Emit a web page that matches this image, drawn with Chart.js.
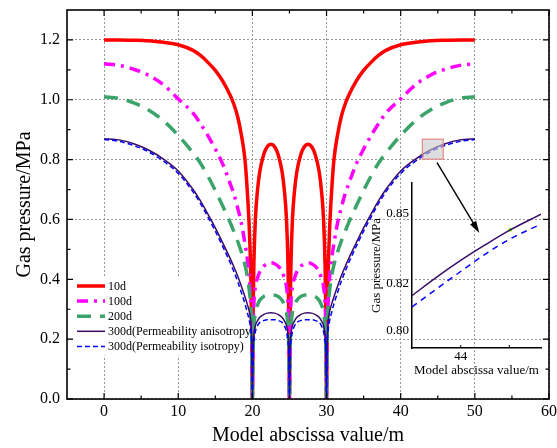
<!DOCTYPE html>
<html>
<head>
<meta charset="utf-8">
<script src="https://cdn.jsdelivr.net/npm/chart.js@4.4.0/dist/chart.umd.min.js"></script>
<style>
  html, body { margin: 0; padding: 0; background: #fff; }
  #wrap { position: relative; width: 557px; height: 448px; }
  #main { position: absolute; left: 0; top: 0; }
  #inset { position: absolute; left: 355px; top: 178px; }
</style>
</head>
<body>
<div id="wrap">
  <canvas id="main" width="557" height="448"></canvas>
  <canvas id="inset" width="195" height="200"></canvas>
</div>
<script>
const FONT = "'Liberation Serif', 'Times New Roman', serif";

// abscissa of every sample (m); wells sit at 20, 25 and 30
const xs = [
  0, 2, 4, 6, 8, 10, 12, 13, 14, 15, 16, 17, 17.5, 18, 18.5, 19, 19.3, 19.6, 19.8, 19.9, 20,
  20.1, 20.2, 20.4, 20.7, 21, 21.5, 22, 22.5, 23, 23.5, 24, 24.3, 24.6, 24.8, 24.9, 25,
  25.1, 25.2, 25.4, 25.7, 26, 26.5, 27, 27.5, 28, 28.5, 29, 29.3, 29.6, 29.8, 29.9, 30,
  30.1, 30.2, 30.4, 30.7, 31, 31.5, 32, 32.5, 33, 34, 35, 36, 37, 38, 40, 42, 44, 46, 48, 50
];

const p10d = [
  1.200, 1.200, 1.199, 1.197, 1.192, 1.184, 1.165, 1.148, 1.125, 1.098, 1.062, 1.015, 0.985, 0.945, 0.885, 0.800, 0.700, 0.560, 0.400, 0.260, 0.000,
  0.300, 0.450, 0.600, 0.700, 0.760, 0.815, 0.843, 0.851, 0.843, 0.815, 0.760, 0.700, 0.600, 0.450, 0.300, 0.000,
  0.300, 0.450, 0.600, 0.700, 0.760, 0.815, 0.843, 0.851, 0.843, 0.815, 0.760, 0.700, 0.600, 0.450, 0.300, 0.000,
  0.260, 0.400, 0.560, 0.700, 0.800, 0.885, 0.945, 0.985, 1.015, 1.062, 1.098, 1.125, 1.148, 1.165, 1.184, 1.192, 1.197, 1.199, 1.200, 1.200
];

const p100d = [
  1.120, 1.115, 1.102, 1.082, 1.050, 1.003, 0.955, 0.920, 0.880, 0.835, 0.785, 0.720, 0.685, 0.640, 0.590, 0.520, 0.470, 0.400, 0.320, 0.250, 0.000,
  0.240, 0.320, 0.375, 0.405, 0.425, 0.443, 0.452, 0.455, 0.452, 0.443, 0.425, 0.405, 0.375, 0.320, 0.240, 0.000,
  0.240, 0.320, 0.375, 0.405, 0.425, 0.443, 0.452, 0.455, 0.452, 0.443, 0.425, 0.405, 0.375, 0.320, 0.240, 0.000,
  0.250, 0.320, 0.400, 0.470, 0.520, 0.590, 0.640, 0.685, 0.720, 0.785, 0.835, 0.880, 0.920, 0.955, 1.003, 1.050, 1.082, 1.102, 1.115, 1.120
];

const p200d = [
  1.010, 1.005, 0.990, 0.966, 0.930, 0.881, 0.822, 0.788, 0.745, 0.697, 0.645, 0.590, 0.560, 0.528, 0.492, 0.448, 0.412, 0.360, 0.300, 0.230, 0.000,
  0.180, 0.240, 0.290, 0.315, 0.330, 0.342, 0.347, 0.348, 0.347, 0.342, 0.330, 0.315, 0.290, 0.240, 0.180, 0.000,
  0.180, 0.240, 0.290, 0.315, 0.330, 0.342, 0.347, 0.348, 0.347, 0.342, 0.330, 0.315, 0.290, 0.240, 0.180, 0.000,
  0.230, 0.300, 0.360, 0.412, 0.448, 0.492, 0.528, 0.560, 0.590, 0.645, 0.697, 0.745, 0.788, 0.822, 0.881, 0.930, 0.966, 0.990, 1.005, 1.010
];

const p300dAniso = [
  0.870, 0.866, 0.853, 0.832, 0.802, 0.762, 0.700, 0.662, 0.618, 0.572, 0.522, 0.470, 0.442, 0.412, 0.378, 0.342, 0.318, 0.290, 0.255, 0.200, 0.000,
  0.180, 0.215, 0.245, 0.262, 0.273, 0.282, 0.287, 0.288, 0.287, 0.282, 0.273, 0.262, 0.245, 0.215, 0.180, 0.000,
  0.180, 0.215, 0.245, 0.262, 0.273, 0.282, 0.287, 0.288, 0.287, 0.282, 0.273, 0.262, 0.245, 0.215, 0.180, 0.000,
  0.200, 0.255, 0.290, 0.318, 0.342, 0.378, 0.412, 0.442, 0.470, 0.522, 0.572, 0.618, 0.662, 0.700, 0.762, 0.802, 0.832, 0.853, 0.866, 0.870
];

const p300dIso = [
  0.867, 0.861, 0.847, 0.826, 0.795, 0.754, 0.692, 0.653, 0.608, 0.561, 0.510, 0.456, 0.426, 0.394, 0.357, 0.318, 0.290, 0.260, 0.225, 0.180, 0.000,
  0.150, 0.190, 0.225, 0.245, 0.256, 0.262, 0.265, 0.265, 0.265, 0.262, 0.256, 0.245, 0.225, 0.190, 0.150, 0.000,
  0.150, 0.190, 0.225, 0.245, 0.256, 0.262, 0.265, 0.265, 0.265, 0.262, 0.256, 0.245, 0.225, 0.190, 0.150, 0.000,
  0.180, 0.225, 0.260, 0.290, 0.318, 0.357, 0.394, 0.426, 0.456, 0.510, 0.561, 0.608, 0.653, 0.692, 0.754, 0.795, 0.826, 0.847, 0.861, 0.867
];

const seriesNames = ['10d', '100d', '200d', '300d(Permeability anisotropy)', '300d(Permeability isotropy)'];

const xTicks = [0, 10, 20, 30, 40, 50, 60];
const xMinorTicks = [5, 15, 25, 35, 45, 55];
const yTicks = [0, 0.2, 0.4, 0.6, 0.8, 1.0, 1.2];
const yMinorTicks = [0.1, 0.3, 0.5, 0.7, 0.9, 1.1];

// magnified window near x = 44 m
const insetXs = [43, 43.5, 44, 44.5, 45, 45.65];
const insetAniso = [0.8150, 0.8228, 0.8300, 0.8366, 0.8428, 0.8497];
const insetIso = [0.8102, 0.8178, 0.8253, 0.8326, 0.8390, 0.8455];
const insetMarker = [45.02, 0.8431];
const insetXTicks = [44, 45];
const insetYTicks = [0.80, 0.82, 0.85];

const zoomBox = { x0: 42.85, x1: 45.8, y0: 0.80, y1: 0.87 };
const arrow = { from: [44.9, 0.79], to: [50.6, 0.555] };

function series(i, values, color, width, dash, order) {
  return {
    label: seriesNames[i],
    data: xs.map((x, k) => ({ x, y: values[k] })),
    borderColor: color,
    borderWidth: width,
    borderDash: dash,
    borderCapStyle: 'butt',
    pointRadius: 0,
    cubicInterpolationMode: 'monotone',
    fill: false,
    order
  };
}

// drop the label half-height padding so the plot box sits where it is sized
function noEdgePad(s) {
  s.paddingTop = 0; s.paddingBottom = 0; s.paddingLeft = 0; s.paddingRight = 0;
}

const mainDecor = {
  id: 'mainDecor',
  beforeDatasetsDraw(chart) {
    // legend panel sits above the grid but under the curves
    const { ctx, chartArea: a } = chart;
    const lx = a.left + 8, rowY = a.top + 276, rowH = 15.1;
    ctx.save();
    ctx.fillStyle = '#fff';
    ctx.fillRect(lx, rowY - 8, 178, rowH * 5 + 2);
    ctx.font = '12px ' + FONT;
    ctx.textBaseline = 'middle';
    chart.data.datasets.forEach((ds, i) => {
      const yy = rowY + i * rowH;
      ctx.strokeStyle = ds.borderColor;
      ctx.lineWidth = ds.borderWidth;
      ctx.setLineDash(ds.borderDash || []);
      ctx.beginPath();
      ctx.moveTo(lx + 2, yy);
      ctx.lineTo(lx + 30, yy);
      ctx.stroke();
      ctx.setLineDash([]);
      ctx.fillStyle = '#000';
      ctx.fillText(ds.label, lx + 33, yy + 0.5);
    });
    ctx.restore();
  },
  afterDatasetsDraw(chart) {
    const { ctx, chartArea: a, scales: { x, y } } = chart;
    ctx.save();

    // highlighted window
    const bx0 = x.getPixelForValue(zoomBox.x0), bx1 = x.getPixelForValue(zoomBox.x1);
    const by0 = y.getPixelForValue(zoomBox.y1), by1 = y.getPixelForValue(zoomBox.y0);
    ctx.fillStyle = 'rgba(200,200,200,0.6)';
    ctx.fillRect(bx0, by0, bx1 - bx0, by1 - by0);
    ctx.strokeStyle = 'rgba(235,110,110,0.9)';
    ctx.lineWidth = 1;
    ctx.strokeRect(bx0 + 0.5, by0 + 0.5, bx1 - bx0 - 1, by1 - by0 - 1);

    // arrow to the inset
    const fx = x.getPixelForValue(arrow.from[0]), fy = y.getPixelForValue(arrow.from[1]);
    const tx = x.getPixelForValue(arrow.to[0]), ty = y.getPixelForValue(arrow.to[1]);
    const ang = Math.atan2(ty - fy, tx - fx), c = Math.cos(ang), s = Math.sin(ang);
    ctx.strokeStyle = '#000';
    ctx.fillStyle = '#000';
    ctx.lineWidth = 1.4;
    ctx.beginPath();
    ctx.moveTo(fx, fy);
    ctx.lineTo(tx - 8 * c, ty - 8 * s);
    ctx.stroke();
    ctx.beginPath();
    ctx.moveTo(tx, ty);
    ctx.lineTo(tx - 12 * c + 3.5 * s, ty - 12 * s - 3.5 * c);
    ctx.lineTo(tx - 12 * c - 3.5 * s, ty - 12 * s + 3.5 * c);
    ctx.closePath();
    ctx.fill();

    // frame with inward ticks on all four sides
    ctx.strokeStyle = '#000';
    ctx.lineWidth = 1.6;
    ctx.strokeRect(a.left, a.top, a.right - a.left, a.bottom - a.top);
    ctx.lineWidth = 1.2;
    ctx.beginPath();
    const tickX = (v, len) => {
      const px = x.getPixelForValue(v);
      ctx.moveTo(px, a.bottom); ctx.lineTo(px, a.bottom - len);
      ctx.moveTo(px, a.top); ctx.lineTo(px, a.top + len);
    };
    const tickY = (v, len) => {
      const py = y.getPixelForValue(v);
      ctx.moveTo(a.left, py); ctx.lineTo(a.left + len, py);
      ctx.moveTo(a.right, py); ctx.lineTo(a.right - len, py);
    };
    xTicks.forEach(v => tickX(v, 6));
    xMinorTicks.forEach(v => tickX(v, 3.5));
    yTicks.forEach(v => tickY(v, 6));
    yMinorTicks.forEach(v => tickY(v, 3.5));
    ctx.stroke();
    ctx.restore();
  }
};

new Chart(document.getElementById('main'), {
  type: 'line',
  data: {
    datasets: [
      series(0, p10d, '#ff0000', 3.5, [], 5),
      series(1, p100d, '#ff00ff', 3.5, [11, 6, 3, 6], 4),
      series(2, p200d, '#3aa46a', 3.5, [14, 9], 3),
      series(3, p300dAniso, '#3a0a66', 1.5, [], 2),
      series(4, p300dIso, '#0000ff', 1.5, [5, 3], 1)
    ]
  },
  options: {
    responsive: false,
    animation: false,
    layout: { padding: { top: 10, right: 8, left: 0, bottom: 0 } },
    plugins: { legend: { display: false }, tooltip: { enabled: false } },
    scales: {
      x: {
        type: 'linear', min: -5, max: 60,
        afterBuildTicks: s => { s.ticks = xTicks.map(v => ({ value: v })); },
        afterFit: s => { s.height = 49; noEdgePad(s); },
        grid: { color: '#999', lineWidth: 1, drawTicks: false },
        border: { display: false, dash: [2, 2] },
        ticks: { font: { family: FONT, size: 16 }, color: '#000', padding: 3, maxRotation: 0 },
        title: { display: true, text: 'Model abscissa value/m', font: { family: FONT, size: 20 }, color: '#000', padding: { top: 0, bottom: 0 } }
      },
      y: {
        type: 'linear', min: 0, max: 1.3,
        afterBuildTicks: s => { s.ticks = yTicks.map(v => ({ value: v })); },
        afterFit: s => { s.width = 67; noEdgePad(s); },
        grid: { color: '#999', lineWidth: 1, drawTicks: false },
        border: { display: false, dash: [2, 2] },
        ticks: { font: { family: FONT, size: 16 }, color: '#000', padding: 7, callback: v => v.toFixed(1) },
        title: { display: true, text: 'Gas pressure/MPa', font: { family: FONT, size: 20 }, color: '#000', padding: { top: 13, bottom: 0 } }
      }
    }
  },
  plugins: [mainDecor]
});

const insetTicks = {
  id: 'insetTicks',
  afterDraw(chart) {
    const { ctx, chartArea: a, scales: { x } } = chart;
    ctx.save();
    ctx.strokeStyle = '#000';
    ctx.lineWidth = 1;
    ctx.beginPath();
    insetXTicks.forEach(v => {
      const px = x.getPixelForValue(v);
      ctx.moveTo(px, a.bottom); ctx.lineTo(px, a.bottom - 3);
    });
    ctx.stroke();
    ctx.restore();
  }
};

new Chart(document.getElementById('inset'), {
  type: 'line',
  data: {
    datasets: [
      {
        data: insetXs.map((x, k) => ({ x, y: insetAniso[k] })),
        borderColor: '#3a0a66', borderWidth: 1.5, pointRadius: 0, cubicInterpolationMode: 'monotone'
      },
      {
        data: insetXs.map((x, k) => ({ x, y: insetIso[k] })),
        borderColor: '#0000ff', borderWidth: 1.5, borderDash: [6, 5], pointRadius: 0, cubicInterpolationMode: 'monotone'
      },
      {
        data: [{ x: insetMarker[0], y: insetMarker[1] }],
        showLine: false, pointRadius: 2, pointBorderWidth: 0, pointBackgroundColor: '#7cfc00'
      }
    ]
  },
  options: {
    responsive: false,
    animation: false,
    layout: { padding: { top: 5, right: 9, left: 0, bottom: 0 } },
    plugins: { legend: { display: false }, tooltip: { enabled: false } },
    scales: {
      x: {
        type: 'linear', min: 43, max: 45.65,
        afterBuildTicks: s => { s.ticks = insetXTicks.map(v => ({ value: v })); },
        afterFit: s => { s.height = 30; noEdgePad(s); },
        grid: { display: false, drawTicks: false },
        border: { display: true, color: '#000', width: 1.5 },
        ticks: { font: { family: FONT, size: 13 }, color: '#000', padding: 1, maxRotation: 0, callback: v => (v === 44 ? '44' : '') },
        title: { display: true, text: 'Model abscissa value/m', font: { family: FONT, size: 13 }, color: '#000', padding: { top: 0, bottom: 0 } }
      },
      y: {
        type: 'linear', min: 0.7927, max: 0.863,
        afterBuildTicks: s => { s.ticks = insetYTicks.map(v => ({ value: v })); },
        afterFit: s => { s.width = 57; noEdgePad(s); },
        grid: { display: false, drawTicks: false },
        border: { display: true, color: '#000', width: 1.5 },
        ticks: { font: { family: FONT, size: 13 }, color: '#000', padding: 3, callback: v => v.toFixed(2) },
        title: { display: true, text: 'Gas pressure/MPa', font: { family: FONT, size: 13 }, color: '#000', padding: { top: 14, bottom: 0 } }
      }
    }
  },
  plugins: [insetTicks]
});
</script>
</body>
</html>
